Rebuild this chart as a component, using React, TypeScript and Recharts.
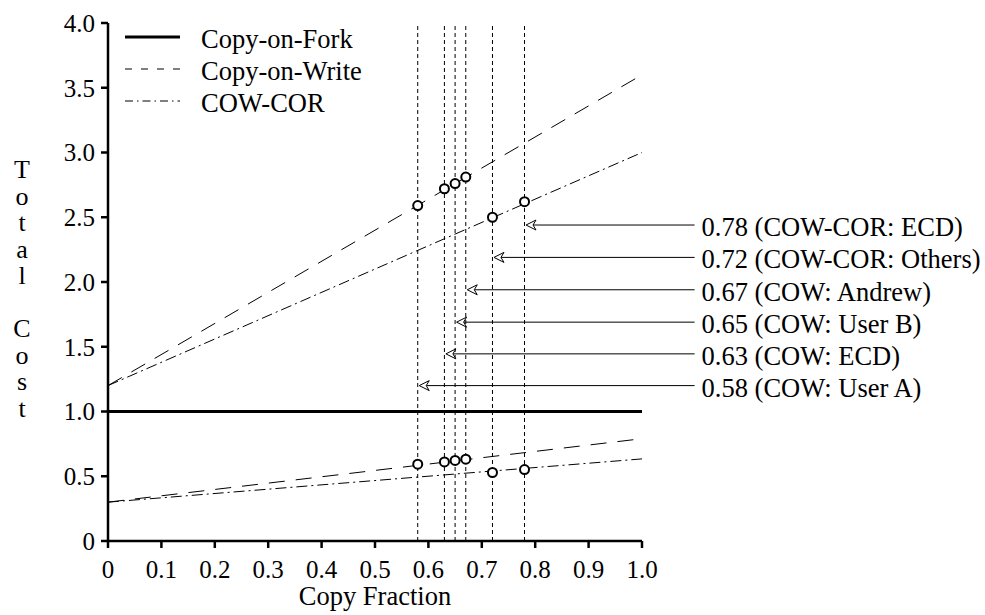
import React from 'react';
import { ComposedChart, Line, Scatter, XAxis, YAxis, ReferenceLine, Legend } from 'recharts';

const FONT = '"Liberation Serif", "Times New Roman", Times, serif';
const FS = 26.5;
const FS_TICK = 25;

// ---- data ----
const xTicks = [0, 0.1, 0.2, 0.3, 0.4, 0.5, 0.6, 0.7, 0.8, 0.9, 1.0];
const yTicks = [0, 0.5, 1.0, 1.5, 2.0, 2.5, 3.0, 3.5, 4.0];

const lineX = [0, 1.0];
const copyOnFork = [1.0, 1.0];
const cowUpper = [1.2, 3.6];
const corUpper = [1.2, 3.0];
const cowLower = [0.3, 0.79];
const corLower = [0.3, 0.634];

const cowFractions = [0.58, 0.63, 0.65, 0.67];
const corFractions = [0.72, 0.78];
const cowUpperPts = [2.59, 2.72, 2.76, 2.81];
const corUpperPts = [2.5, 2.62];
const cowLowerPts = [0.593, 0.611, 0.622, 0.632];
const corLowerPts = [0.529, 0.552];

const markerFractions = [0.58, 0.63, 0.65, 0.67, 0.72, 0.78];
const annotationLabels = [
  '0.58 (COW: User A)',
  '0.63 (COW: ECD)',
  '0.65 (COW: User B)',
  '0.67 (COW: Andrew)',
  '0.72 (COW-COR: Others)',
  '0.78 (COW-COR: ECD)',
];
const annotationLevels = [1.2, 1.445, 1.69, 1.94, 2.19, 2.44];
const ARROW_END = 1.0985;

const legendNames = ['Copy-on-Fork', 'Copy-on-Write', 'COW-COR'];
const yTitle = 'Total Cost';
const xTitle = 'Copy Fraction';

const toPts = (xs: number[], ys: number[]) => xs.map((x, i) => ({ x, y: ys[i] }));
const fmt = (v: number) => (v === 0 ? '0' : v.toFixed(1));

const DASH = '16 11';
const DASHDOT = '11 4 2 4';

const Arrow = (props: any) => {
  const { x1, y1, x2, text } = props;
  const tip = Math.min(x1, x2) + 1.5;
  const end = Math.max(x1, x2);
  const y = y1;
  return (
    <g>
      <line x1={tip + 7} y1={y} x2={end} y2={y} stroke="#000" strokeWidth={1} />
      <path
        d={`M${tip + 10},${y - 5} L${tip},${y} L${tip + 10},${y + 5} L${tip + 7},${y} Z`}
        fill="#fff"
        stroke="#000"
        strokeWidth={1}
      />
      <text x={end + 7} y={y + 11} fontSize={FS} fontFamily={FONT} fill="#000">
        {text}
      </text>
    </g>
  );
};

const Circle = (p: any) => (
  <circle cx={p.cx} cy={p.cy} r={4.5} fill="#fff" stroke="#000" strokeWidth={2} />
);

const LegendBox = () => {
  const styles = [
    { w: 3, d: undefined },
    { w: 1, d: '7 9' },
    { w: 1, d: '8 4 1.5 4' },
  ];
  return (
    <svg width={400} height={130} style={{ display: 'block' }}>
      {legendNames.map((n, i) => (
        <g key={n}>
          <line
            x1={125}
            x2={180}
            y1={37 + 32 * i}
            y2={37 + 32 * i}
            stroke="#000"
            strokeWidth={styles[i].w}
            strokeDasharray={styles[i].d}
          />
          <text x={201} y={48 + 32 * i} fontSize={FS} fontFamily={FONT} fill="#000">
            {n}
          </text>
        </g>
      ))}
    </svg>
  );
};

const YTitle = () => {
  const letters = yTitle.split('');
  return (
    <text fontSize={26} fontFamily={FONT} fill="#000" textAnchor="middle">
      {letters.map((c, i) => (
        <tspan key={i} x={22} y={178 + 26.5 * i}>
          {c === ' ' ? '' : c}
        </tspan>
      ))}
    </text>
  );
};

const XTitle = (p: any) => {
  const vb = p.viewBox || { x: 108, width: 534 };
  return (
    <text x={vb.x + vb.width / 2} y={605} fontSize={FS} fontFamily={FONT} fill="#000" textAnchor="middle">
      {xTitle}
    </text>
  );
};

const tickStyle = { fill: '#000', fontSize: FS_TICK, fontFamily: FONT };

export default function App() {
  return (
    <div style={{ position: 'absolute', left: 0, top: 0, width: 985, height: 615, background: '#fff' }}>
      <ComposedChart
        width={985}
        height={615}
        margin={{ top: 23, right: 343, bottom: 0, left: 0 }}
        style={{ fontFamily: FONT }}
      >
        <XAxis
          type="number"
          dataKey="x"
          domain={[0, 1]}
          ticks={xTicks}
          interval={0}
          tickFormatter={fmt}
          height={74}
          axisLine={{ stroke: '#000', strokeWidth: 2.5 }}
          tickLine={{ stroke: '#000', strokeWidth: 2.5 }}
          tickSize={7}
          tickMargin={12}
          tick={tickStyle}
          label={{ content: (p: any) => <XTitle {...p} /> }}
        />
        <YAxis
          type="number"
          dataKey="y"
          domain={[0, 4]}
          ticks={yTicks}
          interval={0}
          tickFormatter={fmt}
          width={108}
          axisLine={{ stroke: '#000', strokeWidth: 2.5 }}
          tickLine={{ stroke: '#000', strokeWidth: 2.5 }}
          tickSize={7}
          tickMargin={6}
          tick={tickStyle}
          label={{ content: () => <YTitle /> }}
        />
        <Legend
          layout="vertical"
          align="center"
          verticalAlign="middle"
          content={() => <LegendBox />}
          wrapperStyle={{ position: 'absolute', left: 0, top: 0, width: 400, height: 130 }}
        />
        {markerFractions.map((f) => (
          <ReferenceLine key={'v' + f} x={f} stroke="#000" strokeWidth={1} strokeDasharray="4 3" />
        ))}
        <Line
          data={toPts(lineX, copyOnFork)}
          dataKey="y"
          stroke="#000"
          strokeWidth={3}
          dot={false}
          activeDot={false}
          isAnimationActive={false}
        />
        <Line
          data={toPts(lineX, cowUpper)}
          dataKey="y"
          stroke="#000"
          strokeWidth={1}
          strokeDasharray={DASH}
          dot={false}
          activeDot={false}
          isAnimationActive={false}
        />
        <Line
          data={toPts(lineX, corUpper)}
          dataKey="y"
          stroke="#000"
          strokeWidth={1}
          strokeDasharray={DASHDOT}
          dot={false}
          activeDot={false}
          isAnimationActive={false}
        />
        <Line
          data={toPts(lineX, cowLower)}
          dataKey="y"
          stroke="#000"
          strokeWidth={1}
          strokeDasharray={DASH}
          dot={false}
          activeDot={false}
          isAnimationActive={false}
        />
        <Line
          data={toPts(lineX, corLower)}
          dataKey="y"
          stroke="#000"
          strokeWidth={1}
          strokeDasharray={DASHDOT}
          dot={false}
          activeDot={false}
          isAnimationActive={false}
        />
        {markerFractions.map((f, i) => (
          <ReferenceLine
            key={'a' + f}
            segment={[
              { x: f, y: annotationLevels[i] },
              { x: ARROW_END, y: annotationLevels[i] },
            ]}
            ifOverflow="visible"
            shape={(p: any) => <Arrow {...p} text={annotationLabels[i]} />}
          />
        ))}
        <Scatter data={toPts(cowFractions, cowUpperPts)} shape={Circle} isAnimationActive={false} />
        <Scatter data={toPts(corFractions, corUpperPts)} shape={Circle} isAnimationActive={false} />
        <Scatter data={toPts(cowFractions, cowLowerPts)} shape={Circle} isAnimationActive={false} />
        <Scatter data={toPts(corFractions, corLowerPts)} shape={Circle} isAnimationActive={false} />
      </ComposedChart>
    </div>
  );
}
